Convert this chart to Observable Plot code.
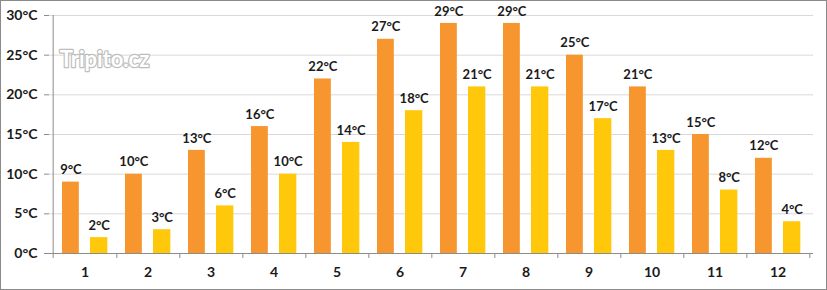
<!DOCTYPE html>
<html><head><meta charset="utf-8">
<script src="https://cdn.jsdelivr.net/npm/d3@7"></script>
<script src="https://cdn.jsdelivr.net/npm/@observablehq/plot@0.6"></script>
<style>
html,body{margin:0;padding:0;background:#fff;}
#chart{width:827px;height:290px;box-sizing:border-box;border:1px solid #8a8a8a;overflow:hidden;background:#fff;}
#chart svg{display:block;}
</style></head><body><div id="chart"></div>
<script>
const months = [1,2,3,4,5,6,7,8,9,10,11,12];
const dayTemps = [9,10,13,16,22,27,29,29,25,21,15,12];
const nightTemps = [2,3,6,10,14,18,21,21,17,13,8,4];
const yTicks = [0,5,10,15,20,25,30];
const unit = "°C";
const watermark = "Tripito.cz";

const W = 825, H = 288;
const mL = 48, mR = 13, mT = 14, mB = 36;
const band = (W - mL - mR) / months.length;
const day = months.map((m, i) => ({month: m, t: dayTemps[i]}));
const night = months.map((m, i) => ({month: m, t: nightTemps[i]}));
const dayL = 9, dayR = 26.5, nightL = 37, nightR = 55;

const chart = Plot.plot({
  width: W, height: H,
  marginLeft: mL, marginRight: mR, marginTop: mT, marginBottom: mB,
  style: {fontFamily: "Lato, 'Open Sans', sans-serif", background: "#fff", color: "#1a1a1a", overflow: "visible"},
  x: {type: "band", domain: months, padding: 0},
  y: {domain: [0, 30]},
  marks: [
    Plot.gridY(yTicks, {stroke: "#d9d9d9", strokeOpacity: 1}),
    Plot.text([watermark], {frameAnchor: "top-left", dx: 55, dy: 36, textAnchor: "middle", fontSize: 22, fontWeight: "bold", fill: "#ffffff", stroke: "#bdbdbd", strokeWidth: 2.4, paintOrder: "stroke"}),
    Plot.barY(day, {x: "month", y: "t", fill: "#F7962F", insetLeft: dayL, insetRight: band - dayR}),
    Plot.barY(night, {x: "month", y: "t", fill: "#FFC80A", insetLeft: nightL, insetRight: band - nightR}),
    Plot.text(day, {x: "month", y: "t", text: d => d.t + unit, dx: (dayL + dayR) / 2 - band / 2, dy: -12, fontWeight: "bold", fontSize: 13, fill: "#1a1a1a"}),
    Plot.text(night, {x: "month", y: "t", text: d => d.t + unit, dx: (nightL + nightR) / 2 - band / 2, dy: -12, fontWeight: "bold", fontSize: 13, fill: "#1a1a1a"}),
    Plot.ruleY([0], {stroke: "#8c8c8c"}),
    Plot.ruleX([months[0]], {stroke: "#8c8c8c", dx: -band / 2, insetBottom: -5}),
    Plot.axisX(months, {tickSize: 5, dx: band / 2, tickFormat: () => "", stroke: "#8c8c8c", label: null}),
    Plot.axisX(months, {tickSize: 0, tickPadding: 14, fontWeight: "bold", fontSize: 14, fill: "#1a1a1a", label: null}),
    Plot.axisY(yTicks, {tickSize: 5, tickPadding: 7, tickFormat: d => d + unit, fontWeight: "bold", fontSize: 14, stroke: "#8c8c8c", fill: "#1a1a1a", label: null})
  ]
});
document.getElementById("chart").append(chart);
</script>
</body></html>
